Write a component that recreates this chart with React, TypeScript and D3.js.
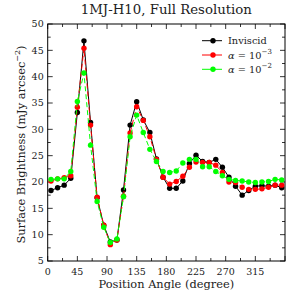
import React, { useEffect, useRef } from 'react';
import * as d3 from 'd3';

// position angles of the azimuthal bins (degree)
const angles = [5, 15, 25, 35, 45, 55, 65, 75, 85, 95, 105, 115, 125, 135, 145, 155, 165, 175,
    185, 195, 205, 215, 225, 235, 245, 255, 265, 275, 285, 295, 305, 315, 325, 335, 345, 355];

const inviscid = [18.4, 18.9, 19.4, 20.7, 33.2, 46.8, 31.3, 17.0, 11.8, 8.6, 9.0, 18.5, 30.8, 35.25, 31.8, 29.4, 24.4, 20.9,
    18.8, 18.8, 20.2, 23.5, 25.1, 23.9, 23.7, 24.3, 22.8, 20.9, 19.2, 17.5, 18.4, 19.2, 19.3, 19.2, 19.4, 18.9];
const alpha3 = [20.2, 20.6, 20.8, 21.2, 34.2, 45.4, 30.8, 17.1, 11.8, 8.1, 9.0, 17.3, 29.3, 34.3, 31.7, 28.6, 24.3, 20.9,
    19.6, 20.1, 21.1, 22.8, 23.8, 23.7, 23.7, 23.2, 21.8, 20.0, 19.9, 19.0, 18.6, 18.6, 18.7, 19.0, 19.4, 19.4];
const alpha2 = [20.5, 20.6, 20.6, 22.0, 35.3, 40.7, 27.0, 16.3, 11.4, 8.5, 9.2, 17.2, 28.6, 32.7, 29.4, 26.2, 23.9, 22.0,
    21.8, 22.1, 23.6, 24.3, 24.3, 22.9, 22.9, 22.0, 21.2, 20.5, 20.3, 20.2, 20.0, 19.9, 20.0, 20.1, 20.5, 20.4];

const xTicks = [0, 45, 90, 135, 180, 225, 270, 315];
const yTicks = [5, 10, 15, 20, 25, 30, 35, 40, 45, 50];

const seriesList = [
    { name: 'Inviscid', exp: null, values: inviscid, color: '#000000', dash: null },
    { name: 'alpha', exp: '\u22123', values: alpha3, color: '#ff0000', dash: '5,3' },
    { name: 'alpha', exp: '\u22122', values: alpha2, color: '#00ff00', dash: '5,3' },
];

const FONT = '"DejaVu Serif", serif';

function App() {
    const svgRef = useRef(null);

    useEffect(() => {
        const W = 293, H = 301;
        const margin = { top: 24, right: 8, bottom: 40, left: 47.7 };
        const width = W - margin.left - margin.right;
        const height = H - margin.top - margin.bottom;

        const root = d3.select(svgRef.current);
        root.selectAll('*').remove();
        root.append('rect').attr('width', W).attr('height', H).attr('fill', '#fff');

        const svg = root.append('g').attr('transform', `translate(${margin.left},${margin.top})`);

        const x = d3.scaleLinear().domain([0, 360]).range([0, width]);
        const y = d3.scaleLinear().domain([5, 50]).range([height, 0]);

        // ticks on all four sides, pointing inward
        const minorX = d3.range(0, 360.01, 22.5);
        const minorY = d3.range(5, 50.01, 2.5);
        const ticks = svg.append('g').attr('stroke', '#000').attr('stroke-width', 0.8);
        minorX.forEach(v => {
            const len = v % 45 === 0 ? 5 : 3;
            ticks.append('line').attr('x1', x(v)).attr('x2', x(v)).attr('y1', height).attr('y2', height - len);
            ticks.append('line').attr('x1', x(v)).attr('x2', x(v)).attr('y1', 0).attr('y2', len);
        });
        minorY.forEach(v => {
            const len = v % 5 === 0 ? 5 : 3;
            ticks.append('line').attr('x1', 0).attr('x2', len).attr('y1', y(v)).attr('y2', y(v));
            ticks.append('line').attr('x1', width).attr('x2', width - len).attr('y1', y(v)).attr('y2', y(v));
        });

        svg.append('rect')
            .attr('width', width)
            .attr('height', height)
            .attr('fill', 'none')
            .attr('stroke', '#000')
            .attr('stroke-width', 1);

        // tick labels
        svg.append('g').selectAll('text')
            .data(xTicks)
            .enter()
            .append('text')
            .attr('x', d => x(d))
            .attr('y', height + 14)
            .attr('text-anchor', 'middle')
            .attr('font-family', FONT)
            .attr('font-size', 9.5)
            .attr('fill', '#222')
            .text(d => d);

        svg.append('g').selectAll('text')
            .data(yTicks)
            .enter()
            .append('text')
            .attr('x', -4)
            .attr('y', d => y(d) + 3.4)
            .attr('text-anchor', 'end')
            .attr('font-family', FONT)
            .attr('font-size', 9.5)
            .attr('fill', '#222')
            .text(d => d);

        // axis titles
        svg.append('text')
            .attr('x', width / 2)
            .attr('y', height + 27)
            .attr('text-anchor', 'middle')
            .attr('font-family', FONT)
            .attr('font-size', 11.4)
            .attr('fill', '#222')
            .text('Position Angle (degree)');

        const yl = svg.append('text')
            .attr('transform', `translate(${-23},${height / 2 + 2}) rotate(-90)`)
            .attr('text-anchor', 'middle')
            .attr('font-family', FONT)
            .attr('font-size', 11.4)
            .attr('fill', '#222');
        yl.append('tspan').text('Surface Brightness (mJy arcsec');
        yl.append('tspan').attr('font-size', 8).attr('dy', -5).text('\u22122');
        yl.append('tspan').attr('dy', 5).text(')');

        svg.append('text')
            .attr('x', width / 2)
            .attr('y', -10)
            .attr('text-anchor', 'middle')
            .attr('font-family', FONT)
            .attr('font-size', 13.3)
            .attr('fill', '#222')
            .text('1MJ-H10, Full Resolution');

        // data
        const line = d3.line()
            .x((d, i) => x(angles[i]))
            .y(d => y(d));

        seriesList.forEach(s => {
            svg.append('path')
                .datum(s.values)
                .attr('d', line)
                .attr('fill', 'none')
                .attr('stroke', s.color)
                .attr('stroke-width', 1)
                .attr('stroke-dasharray', s.dash);
            svg.append('g').selectAll('circle')
                .data(s.values)
                .enter()
                .append('circle')
                .attr('cx', (d, i) => x(angles[i]))
                .attr('cy', d => y(d))
                .attr('r', 2.7)
                .attr('fill', s.color);
        });

        // legend
        const lg = svg.append('g').attr('transform', `translate(${202 - margin.left},${40.7 - margin.top})`);
        seriesList.forEach((s, i) => {
            const row = lg.append('g').attr('transform', `translate(0,${i * 14.3})`);
            row.append('line')
                .attr('x1', 0).attr('x2', 20)
                .attr('stroke', s.color)
                .attr('stroke-width', 1);
            row.append('circle').attr('cx', 11).attr('r', 2.7).attr('fill', s.color);
            const t = row.append('text')
                .attr('x', 26)
                .attr('y', 3.5)
                .attr('font-family', FONT)
                .attr('font-size', 9.8)
                .attr('fill', '#222');
            if (s.exp) {
                t.append('tspan').attr('font-style', 'italic').text('\u03b1');
                t.append('tspan').text(' = 10');
                t.append('tspan').attr('font-size', 7).attr('dy', -4.5).text(s.exp);
            } else {
                t.text(s.name);
            }
        });
    }, []);

    return (
        <svg ref={svgRef} width={293} height={301} style={{ position: 'absolute', left: 0, top: 0 }}></svg>
    );
}

export default App;
